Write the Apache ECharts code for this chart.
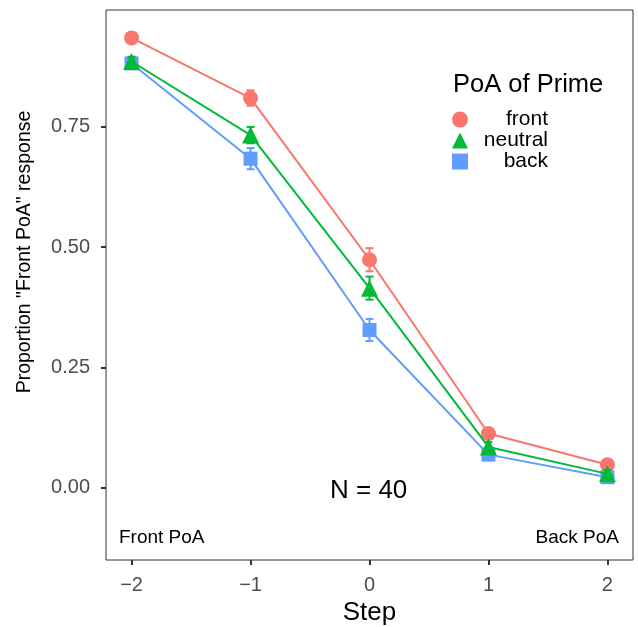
<!DOCTYPE html>
<html>
<head>
<meta charset="utf-8">
<script src="https://cdn.jsdelivr.net/npm/echarts@6/dist/echarts.min.js"></script>
<style>
html,body{margin:0;padding:0;background:#fff;}
#chart{width:638px;height:627px;}
</style>
</head>
<body>
<div id="chart"></div>
<script>
// ---- data ----
var steps = [-2, -1, 0, 1, 2];
var seriesNames = ['front', 'neutral', 'back'];
var frontMean = [0.935, 0.810, 0.474, 0.113, 0.048];
var frontErr = [0.008, 0.016, 0.024, 0.010, 0.008];
var neutralMean = [0.886, 0.733, 0.415, 0.085, 0.029];
var neutralErr = [0.010, 0.017, 0.024, 0.010, 0.008];
var backMean = [0.882, 0.684, 0.328, 0.069, 0.022];
var backErr = [0.008, 0.022, 0.023, 0.008, 0.006];
var yTicks = [0, 0.25, 0.5, 0.75];
var xTicks = [-2, -1, 0, 1, 2];

var FONT = "'Liberation Sans', Arial, Helvetica, sans-serif";
var colors = {front: '#F8766D', neutral: '#00BA38', back: '#619CFF'};
var symbols = {front: 'circle', neutral: 'triangle', back: 'rect'};
var symbolSizes = {front: 15, neutral: 17, back: 14};
var means = {front: frontMean, neutral: neutralMean, back: backMean};
var errs = {front: frontErr, neutral: neutralErr, back: backErr};
var zOrder = {back: 2, front: 3, neutral: 4};

var chart = echarts.init(document.getElementById('chart'), null, {renderer: 'canvas'});

function pairs(xs, ys) { return xs.map(function (x, i) { return [x, ys[i]]; }); }

var series = [];
seriesNames.forEach(function (name) {
  var col = colors[name];
  series.push({
    name: name,
    type: 'line',
    data: pairs(steps, means[name]),
    symbol: symbols[name],
    symbolSize: symbolSizes[name],
    showAllSymbol: true,
    lineStyle: {color: col, width: 2},
    itemStyle: {color: col},
    z: zOrder[name],
    animation: false
  });
  series.push({
    name: name,
    type: 'custom',
    data: steps.map(function (x, i) { return [x, means[name][i] - errs[name][i], means[name][i] + errs[name][i]]; }),
    z: zOrder[name],
    animation: false,
    renderItem: function (params, api) {
      var lo = api.coord([api.value(0), api.value(1)]);
      var hi = api.coord([api.value(0), api.value(2)]);
      var hw = 4;
      var st = {stroke: col, lineWidth: 2};
      return {
        type: 'group',
        children: [
          {type: 'line', shape: {x1: lo[0], y1: lo[1], x2: hi[0], y2: hi[1]}, style: st},
          {type: 'line', shape: {x1: lo[0] - hw, y1: lo[1], x2: lo[0] + hw, y2: lo[1]}, style: st},
          {type: 'line', shape: {x1: hi[0] - hw, y1: hi[1], x2: hi[0] + hw, y2: hi[1]}, style: st}
        ]
      };
    },
    encode: {x: 0, y: [1, 2]}
  });
});

var option = {
  backgroundColor: '#ffffff',
  animation: false,
  grid: {left: 106, right: 5, top: 10, bottom: 67, show: true, borderColor: '#333333', borderWidth: 1,
    containLabel: false, outerBoundsMode: 'none'},
  title: {
    text: 'PoA of Prime', left: 448, top: 67,
    textStyle: {fontFamily: FONT, fontSize: 25.5, fontWeight: 'normal', color: '#000'}
  },
  legend: {
    orient: 'vertical', left: 447, top: 104,
    itemWidth: 16, itemHeight: 16, itemGap: 0,
    data: seriesNames.map(function (n) { return {name: n, icon: symbols[n], itemStyle: {color: colors[n]}}; }),
    formatter: function (n) { return '{a|' + n + '}'; },
    textStyle: {fontFamily: FONT, fontSize: 21, color: '#000', lineHeight: 20,
      rich: {a: {width: 75, align: 'right', fontFamily: FONT, fontSize: 21, lineHeight: 20, color: '#000'}}},
    selectedMode: false
  },
  xAxis: {
    type: 'value', min: -2.215, max: 2.215,
    name: 'Step', nameLocation: 'middle', nameGap: 40,
    nameTextStyle: {fontFamily: FONT, fontSize: 26, color: '#000'},
    axisLine: {show: false, onZero: false},
    axisTick: {show: true, customValues: xTicks, length: 5, lineStyle: {color: '#333', width: 2}},
    axisLabel: {customValues: xTicks, fontFamily: FONT, fontSize: 20, color: '#4D4D4D', margin: 15,
      formatter: function (v) { return v < 0 ? '\u2212' + Math.abs(v) : String(v); }},
    splitLine: {show: false}
  },
  yAxis: {
    type: 'value', min: -0.15, max: 0.993,
    axisLine: {show: false, onZero: false},
    axisTick: {show: true, customValues: yTicks, length: 5, lineStyle: {color: '#333', width: 2}},
    axisLabel: {customValues: yTicks, fontFamily: FONT, fontSize: 20, color: '#4D4D4D', margin: 16,
      formatter: function (v) { return v.toFixed(2); }},
    splitLine: {show: false}
  },
  graphic: [
    {type: 'text', x: 25, y: 252, rotation: Math.PI / 2,
      style: {text: 'Proportion "Front PoA" response', font: '19.5px ' + FONT, fill: '#000', align: 'center', verticalAlign: 'middle'}},
    {type: 'text', left: 330, top: 478, style: {text: 'N = 40', font: '26px ' + FONT, fill: '#000'}},
    {type: 'text', left: 119, top: 528, style: {text: 'Front PoA', font: '19px ' + FONT, fill: '#000'}},
    {type: 'text', right: 19, top: 528, style: {text: 'Back PoA', font: '19px ' + FONT, fill: '#000'}}
  ],
  series: series
};
chart.setOption(option);
</script>
</body>
</html>
